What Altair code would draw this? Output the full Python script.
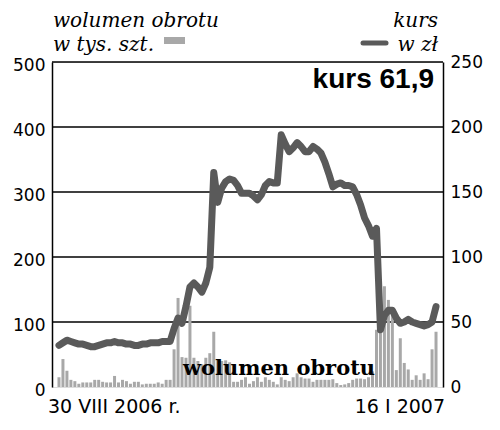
import altair as alt
import pandas as pd

# volume (thousand shares), one bar per trading day, 30 VIII 2006 .. 16 I 2007
vol = [15, 43, 25, 11, 9, 5, 7, 7, 7, 11,
       11, 8, 7, 7, 17, 7, 11, 9, 5, 8,
       8, 4, 5, 5, 5, 7, 5, 11, 11, 58,
       137, 46, 45, 125, 45, 40, 35, 45, 52, 85,
       41, 40, 41, 38, 8, 8, 11, 15, 5, 9,
       15, 8, 15, 11, 8, 4, 15, 11, 9, 15,
       21, 15, 13, 13, 8, 11, 11, 11, 11, 12,
       6, 3, 4, 6, 11, 13, 13, 12, 15, 24,
       88, 88, 155, 134, 123, 26, 75, 37, 27, 11,
       18, 11, 21, 12, 58, 85]

# share price (zl)
kurs = [32, 34, 36, 35, 34, 33, 33, 32, 31, 31,
        32, 33, 34, 34, 35, 34, 34, 33, 33, 32,
        32, 33, 33, 34, 34, 34, 35, 35, 35, 45,
        53, 49, 62, 77, 80, 77, 73, 80, 92, 165,
        142, 153, 158, 160, 159, 155, 149, 149, 149, 147,
        144, 148, 155, 158, 157, 157, 194, 187, 181, 184,
        188, 185, 181, 181, 185, 183, 180, 173, 164, 154,
        156, 157, 155, 155, 154, 148, 140, 130, 124, 116,
        122, 44, 55, 59, 59, 53, 49, 50, 52, 50,
        49, 48, 47, 48, 50, 61.9]

left_ticks = [0, 100, 200, 300, 400, 500]
right_ticks = [0, 50, 100, 150, 200, 250]
grid_vals = [100, 200, 300, 400, 500]

df = pd.DataFrame({"i": list(range(len(vol))), "vol": vol, "kurs": kurs})
gdf = pd.DataFrame({"vol": grid_vals})

W, H = 391, 325
xscale = alt.Scale(domain=[-0.5, len(vol) - 0.5], nice=False, zero=False)
lscale = alt.Scale(domain=[0, 500], nice=False)
rscale = alt.Scale(domain=[0, 250], nice=False)

left_axis = alt.Axis(
    orient="left", values=left_ticks, grid=False, ticks=False,
    domainColor="black", domainWidth=1.5, labelPadding=7,
    labelFont="DejaVu Sans", labelFontSize=17, labelColor="black",
    labelOffset=3, title=None)

grid = alt.Chart(gdf).mark_rule(color="black", strokeWidth=1.5).encode(
    y=alt.Y("vol:Q", scale=lscale, axis=left_axis)
)

bars = alt.Chart(df).mark_bar(color="#a8a8a8", size=3).encode(
    x=alt.X("i:Q", scale=xscale, axis=None),
    y=alt.Y("vol:Q", scale=lscale, axis=left_axis),
)

line = alt.Chart(df).mark_line(color="#5a5a5a", strokeWidth=7,
                               strokeJoin="round", strokeCap="round").encode(
    x=alt.X("i:Q", scale=xscale, axis=None),
    y=alt.Y("kurs:Q", scale=rscale, axis=alt.Axis(
        orient="right", values=right_ticks, grid=False, ticks=False,
        domainColor="black", domainWidth=1.5, labelPadding=7,
        labelFont="DejaVu Sans", labelFontSize=17, labelColor="black",
        title=None)),
)

one = pd.DataFrame({"a": [0]})


def txt(s, x, y, align, font, size, weight="normal", style="normal", lh=None):
    kw = {}
    if lh is not None:
        kw["lineHeight"] = lh
    return alt.Chart(one).mark_text(
        text=s, align=align, baseline="alphabetic", font=font, fontSize=size,
        fontWeight=weight, fontStyle=style, color="black", **kw
    ).encode(x=alt.value(x), y=alt.value(y))


t1 = txt(["wolumen obrotu", "w tys. szt."], 1, -35, "left", "DejaVu Serif", 20,
         style="italic", lh=23.5)
t3 = txt(["kurs", "w zł"], 386, -35, "right", "DejaVu Serif", 20, style="italic", lh=23.5)
t5 = txt("kurs 61,9", 382, 26, "right", "Liberation Sans", 28, weight="bold")
t6 = txt("wolumen obrotu", 227, 313, "center", "DejaVu Serif", 21, weight="bold")
t7 = txt("30 VIII 2006 r.", -4, 351, "left", "DejaVu Sans", 19)
t8 = txt("16 I 2007", 393, 351, "right", "DejaVu Sans", 19)

leg_bar = alt.Chart(one).mark_rect(color="#a8a8a8").encode(
    x=alt.value(112), x2=alt.value(133), y=alt.value(-25), y2=alt.value(-18))
leg_line = alt.Chart(one).mark_rule(color="#5a5a5a", strokeWidth=5, strokeCap="round").encode(
    x=alt.value(311), x2=alt.value(334), y=alt.value(-19))

main = alt.layer(alt.layer(grid, bars), line).resolve_scale(y="independent")

chart = alt.layer(main, t1, t3, t5, t6, t7, t8, leg_bar, leg_line).properties(
    width=W, height=H,
    autosize=alt.AutoSizeParams(type="none"),
    padding={"left": 44, "top": 54, "right": 48, "bottom": 32},
).configure_view(stroke=None).configure(background="white")

chart.save("out.html", embed_options={"renderer": "svg", "actions": False})
